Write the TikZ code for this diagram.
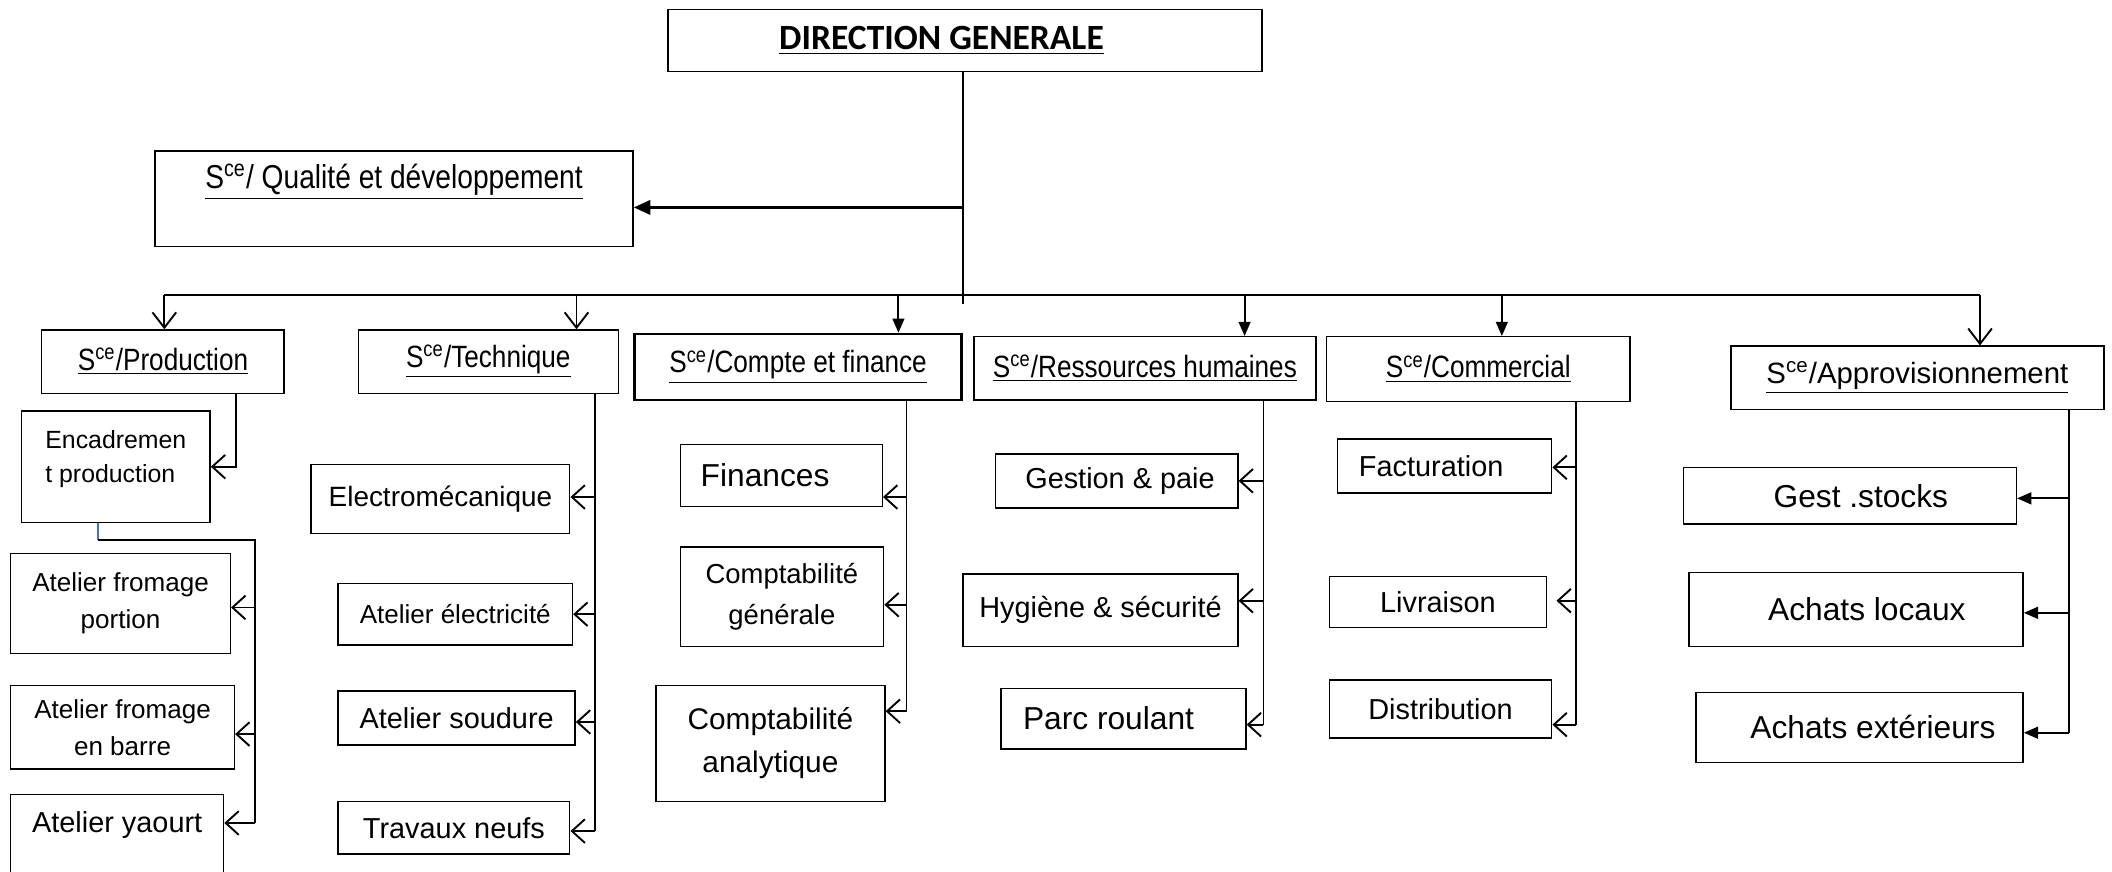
\documentclass[tikz,border=0pt]{standalone}
\usepackage{fontspec}
\setmainfont{Liberation Sans}
\newfontfamily\narrowsans{Liberation Sans}[FakeStretch=0.85]
\newfontfamily\titlefont{Carlito}
\usetikzlibrary{arrows.meta}

\definecolor{encblue}{RGB}{68,114,196}
\newcommand{\scename}{S\textsuperscript{ce}}

\tikzset{
  box/.style={draw, line width=0.6pt, inner sep=0pt, align=center},
  title/.style={box, font=\titlefont\bfseries\fontsize{15}{17}\selectfont},
  sce/.style={box, font=\narrowsans\fontsize{13}{15}\selectfont},
  unit/.style={box, font=\fontsize{12.2}{17}\selectfont},
  bigunit/.style={box, font=\fontsize{13.4}{18}\selectfont},
  smallunit/.style={box, font=\fontsize{11}{15.5}\selectfont},
  link/.style={line width=0.8pt},
  bus/.style={line width=1.1pt},
  barb/.style={link, -{Straight Barb[length=5.5pt,width=10pt]}},
  drop/.style={link, -{Straight Barb[length=6.5pt,width=10pt]}},
  fdrop/.style={link, -{Triangle[length=6pt,width=5pt]}},
  tri/.style={link, -{Triangle[length=6pt,width=5pt]}},
  qarrow/.style={line width=1.3pt, -{Triangle[length=7pt,width=6pt]}},
}

\begin{document}
\begin{tikzpicture}[]
    \useasboundingbox (0,0) rectangle (31.36,-12.94);

    % draw direction and quality
    \node[title, minimum width=8.82cm, minimum height=0.92cm] (dg) at (14.33,-0.60) {\underline{DIRECTION GENERALE}\hspace*{0.7cm}};
    \node[sce, font=\narrowsans\fontsize{14}{16}\selectfont, minimum width=7.10cm, text height=0.46cm, text depth=0.76cm, inner ysep=0.1cm] (qual) at (5.85,-2.95) {\underline{\scename/ Qualité et développement}};

    % draw services
    \node[sce, minimum width=3.60cm, minimum height=0.94cm] (prod) at (2.42,-5.37) {\underline{\scename/Production}};
    \node[sce, minimum width=3.86cm, minimum height=0.94cm] (tech) at (7.25,-5.37) {\underline{\scename/Technique}};
    \node[sce, line width=1.1pt, minimum width=4.86cm, minimum height=0.98cm] (cpt) at (11.85,-5.45) {\underline{\scename/Compte et finance}};
    \node[sce, minimum width=5.08cm, minimum height=0.94cm] (rh) at (17.00,-5.47) {\underline{\scename/Ressources humaines}};
    \node[sce, minimum width=4.50cm, minimum height=0.96cm] (com) at (21.95,-5.48) {\underline{\scename/Commercial}};
    \node[box, font=\fontsize{12.4}{15}\selectfont, minimum width=5.54cm, minimum height=0.94cm] (appro) at (28.47,-5.61) {\underline{\scename/Approvisionnement}};

    % draw production units
    \node[box, font=\fontsize{10.5}{14.7}\selectfont, align=left, minimum width=2.80cm, minimum height=1.66cm] (enc) at (1.72,-6.93) {Encadremen\\t production\\[-6pt]\hspace*{0.1cm}};
    \node[smallunit, minimum width=3.26cm, minimum height=1.48cm] (port) at (1.79,-8.96) {Atelier fromage\\portion};
    \node[smallunit, minimum width=3.32cm, minimum height=1.24cm] (barre) at (1.82,-10.80) {Atelier fromage\\en barre};
    \node[unit, minimum width=3.16cm, text height=0.50cm, text depth=0.88cm, inner ysep=0.06cm] (yaourt) at (1.74,-12.55) {Atelier yaourt};

    % draw technical units
    \node[unit, font=\fontsize{11.8}{14}\selectfont, minimum width=3.84cm, minimum height=1.02cm] (elec) at (6.54,-7.41) {Electromécanique};
    \node[smallunit, minimum width=3.48cm, minimum height=0.92cm] (atel) at (6.76,-9.12) {Atelier électricité};
    \node[unit, minimum width=3.52cm, minimum height=0.80cm] (soud) at (6.78,-10.66) {Atelier soudure};
    \node[unit, minimum width=3.44cm, minimum height=0.78cm] (trav) at (6.74,-12.29) {Travaux neufs};

    % draw finance units
    \node[bigunit, minimum width=3.00cm, minimum height=0.92cm] (fin) at (11.60,-7.06) {Finances\hspace*{0.48cm}};
    \node[box, font=\fontsize{11.6}{17}\selectfont, minimum width=3.02cm, minimum height=1.48cm] (cgen) at (11.61,-8.86) {Comptabilité\\générale};
    \node[box, font=\fontsize{12.6}{18.1}\selectfont, minimum width=3.40cm, minimum height=1.72cm] (cana) at (11.44,-11.04) {Comptabilité\\analytique};

    % draw human resources units
    \node[unit, minimum width=3.60cm, minimum height=0.80cm] (gp) at (16.58,-7.14) {\hspace*{0.1cm}Gestion \& paie};
    \node[unit, minimum width=4.08cm, minimum height=1.08cm] (hs) at (16.34,-9.06) {Hygiène \& sécurité};
    \node[bigunit, minimum width=3.64cm, minimum height=0.90cm] (pr) at (16.68,-10.67) {Parc roulant\hspace*{0.44cm}};

    % draw commercial units
    \node[unit, minimum width=3.18cm, minimum height=0.80cm] (fact) at (21.45,-6.92) {Facturation\hspace*{0.4cm}};
    \node[unit, minimum width=3.22cm, minimum height=0.76cm] (liv) at (21.35,-8.94) {Livraison};
    \node[unit, minimum width=3.30cm, minimum height=0.86cm] (dist) at (21.39,-10.53) {Distribution};

    % draw supply units
    \node[bigunit, minimum width=4.94cm, minimum height=0.84cm] (gs) at (27.47,-7.36) {\hspace*{0.32cm}Gest .stocks};
    \node[bigunit, minimum width=4.96cm, minimum height=1.10cm] (al) at (27.56,-9.05) {\hspace*{0.32cm}Achats locaux};
    \node[bigunit, minimum width=4.86cm, minimum height=1.04cm] (ae) at (27.61,-10.80) {\hspace*{0.4cm}Achats extérieurs};

    % direction links
    \coordinate (dgq) at (14.30,-3.08);
    \coordinate (dgz) at (14.30,-4.52);
    \draw[link] (dg.south -| dgz) -- (dgz);
    \draw[qarrow] (dgq) -- (dgq -| qual.east);

    % bus and drops
    \foreach \x/\n in {2.44/prod, 8.56/tech, 13.34/cpt, 18.48/rh, 22.30/com, 29.40/appro}
        \coordinate (b-\n) at (\x,-4.38);
    \draw[bus] (b-prod) -- (b-appro);
    \foreach \n in {prod, tech, appro}
        \draw[drop] (b-\n) -- (b-\n |- \n.north);
    \foreach \n in {cpt, rh, com}
        \draw[fdrop] (b-\n) -- (b-\n |- \n.north);

    % production links
    \coordinate (pe) at (3.50,-6.96);
    \draw[barb] (prod.south -| pe) |- (enc.east);
    \coordinate (pb) at (1.46,-8.02);
    \coordinate (pa) at (3.78,-8.02);
    \foreach \y/\n in {-9.02/port, -10.90/barre, -12.22/yaourt}
        \coordinate (t-\n) at (3.78,\y);
    \draw[link, encblue] (enc.south -| pb) -- (pb);
    \draw[link] (pb) -- (pa) -- (t-yaourt);
    \foreach \n in {port, barre, yaourt}
        \draw[barb] (t-\n) -- (t-\n -| \n.east);

    % technical links
    \foreach \y/\n in {-7.38/elec, -9.12/atel, -10.72/soud, -12.34/trav}
        \coordinate (t-\n) at (8.84,\y);
    \draw[link] (tech.south -| t-elec) -- (t-trav);
    \foreach \n in {elec, atel, soud, trav}
        \draw[barb] (t-\n) -- (t-\n -| \n.east);

    % finance links
    \foreach \y/\n in {-7.38/fin, -8.98/cgen, -10.56/cana}
        \coordinate (t-\n) at (13.46,\y);
    \draw[link] (cpt.south -| t-fin) -- (t-cana);
    \foreach \n in {fin, cgen, cana}
        \draw[barb] (t-\n) -- (t-\n -| \n.east);

    % human resources links
    \foreach \y/\n in {-7.14/gp, -8.92/hs, -10.76/pr}
        \coordinate (t-\n) at (18.76,\y);
    \draw[link] (rh.south -| t-gp) -- (t-pr);
    \foreach \n in {gp, hs, pr}
        \draw[barb] (t-\n) -- (t-\n -| \n.east);

    % commercial links
    \foreach \y/\n in {-6.94/fact, -8.92/liv, -10.76/dist}
        \coordinate (t-\n) at (23.40,\y);
    \draw[link] (com.south -| t-fact) -- (t-dist);
    \draw[barb] (t-fact) -- (t-fact -| fact.east);
    \draw[barb, shorten >=4pt] (t-liv) -- (t-liv -| liv.east);
    \draw[barb] (t-dist) -- (t-dist -| dist.east);

    % supply links
    \foreach \y/\n in {-7.40/gs, -9.10/al, -10.88/ae}
        \coordinate (t-\n) at (30.72,\y);
    \draw[link] (appro.south -| t-gs) -- (t-ae);
    \foreach \n in {gs, al, ae}
        \draw[tri] (t-\n) -- (t-\n -| \n.east);
\end{tikzpicture}
\end{document}
